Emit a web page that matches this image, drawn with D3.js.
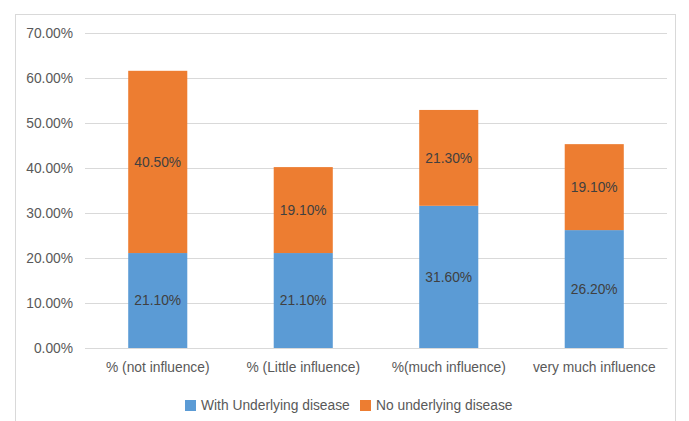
<!DOCTYPE html>
<html><head><meta charset="utf-8">
<script src="https://cdn.jsdelivr.net/npm/d3@7/dist/d3.min.js"></script>
<style>body{margin:0;background:#fff}svg{display:block}</style>
</head><body><svg id="c" width="689" height="421"></svg>
<script>
const categories = ["% (not influence)", "% (Little influence)", "%(much influence)", "very much influence"];
const withDisease = [21.1, 21.1, 31.6, 26.2];
const noDisease = [40.5, 19.1, 21.3, 19.1];
const seriesNames = ["With Underlying disease", "No underlying disease"];
const seriesColors = ["#5B9BD5", "#ED7D31"];
const yTicks = [0, 10, 20, 30, 40, 50, 60, 70];

(function () {
const svg = d3.select("#c");
const font = "'Liberation Sans', Arial, sans-serif";
const fs = "13.8px";
svg.append("rect").attr("x", 15.5).attr("y", 14.5).attr("width", 660).attr("height", 420)
  .attr("fill", "#fff").attr("stroke", "#d9d9d9").attr("stroke-width", 1);

const pL = 85, pR = 667, pT = 33, pB = 348;
const x = d3.scaleBand().domain(categories).range([pL, pR]).paddingInner(0.594).paddingOuter(0.297);
const y = d3.scaleLinear().domain([0, 70]).range([pB, pT]);

const yAxis = d3.axisLeft(y).tickValues(yTicks).tickSize(-(pR - pL)).tickFormat(d => d.toFixed(2) + "%");
const gy = svg.append("g").attr("transform", `translate(${pL},0)`).call(yAxis);
gy.select(".domain").remove();
gy.selectAll(".tick line").attr("stroke", "#d9d9d9").attr("stroke-width", 1);
gy.selectAll(".tick text").attr("x", -12).attr("fill", "#595959").style("font-family", font).style("font-size", fs);

const rows = categories.map((c, i) => ({cat: c, s0: withDisease[i], s1: noDisease[i]}));
const stacked = d3.stack().keys(["s0", "s1"])(rows);

stacked.forEach((layer, li) => {
  const g = svg.append("g");
  g.selectAll("rect").data(layer).join("rect")
    .attr("x", d => x(d.data.cat)).attr("width", x.bandwidth())
    .attr("y", d => y(d[1])).attr("height", d => y(d[0]) - y(d[1]))
    .attr("fill", seriesColors[li]);
  g.selectAll("text").data(layer).join("text")
    .attr("x", d => x(d.data.cat) + x.bandwidth() / 2)
    .attr("y", d => y((d[0] + d[1]) / 2))
    .attr("dy", "0.35em").attr("text-anchor", "middle")
    .attr("fill", "#404040").style("font-family", font).style("font-size", fs)
    .text(d => (d[1] - d[0]).toFixed(2) + "%");
});

const xAxis = d3.axisBottom(x).tickSize(0);
const gx = svg.append("g").attr("transform", `translate(0,${pB})`).call(xAxis);
gx.select(".domain").attr("stroke", "#d9d9d9");
gx.selectAll(".tick text").attr("y", 14).attr("dy", "0.71em").attr("fill", "#595959").style("font-family", font).style("font-size", fs);

const legend = svg.append("g");
const lx = [185, 360];
seriesNames.forEach((n, i) => {
  legend.append("rect").attr("x", lx[i]).attr("y", 400).attr("width", 11).attr("height", 11).attr("fill", seriesColors[i]);
  legend.append("text").attr("x", lx[i] + 16).attr("y", 405.5).attr("dy", "0.35em")
    .attr("fill", "#595959").style("font-family", font).style("font-size", fs).text(n);
});
})();
</script>
</body></html>
